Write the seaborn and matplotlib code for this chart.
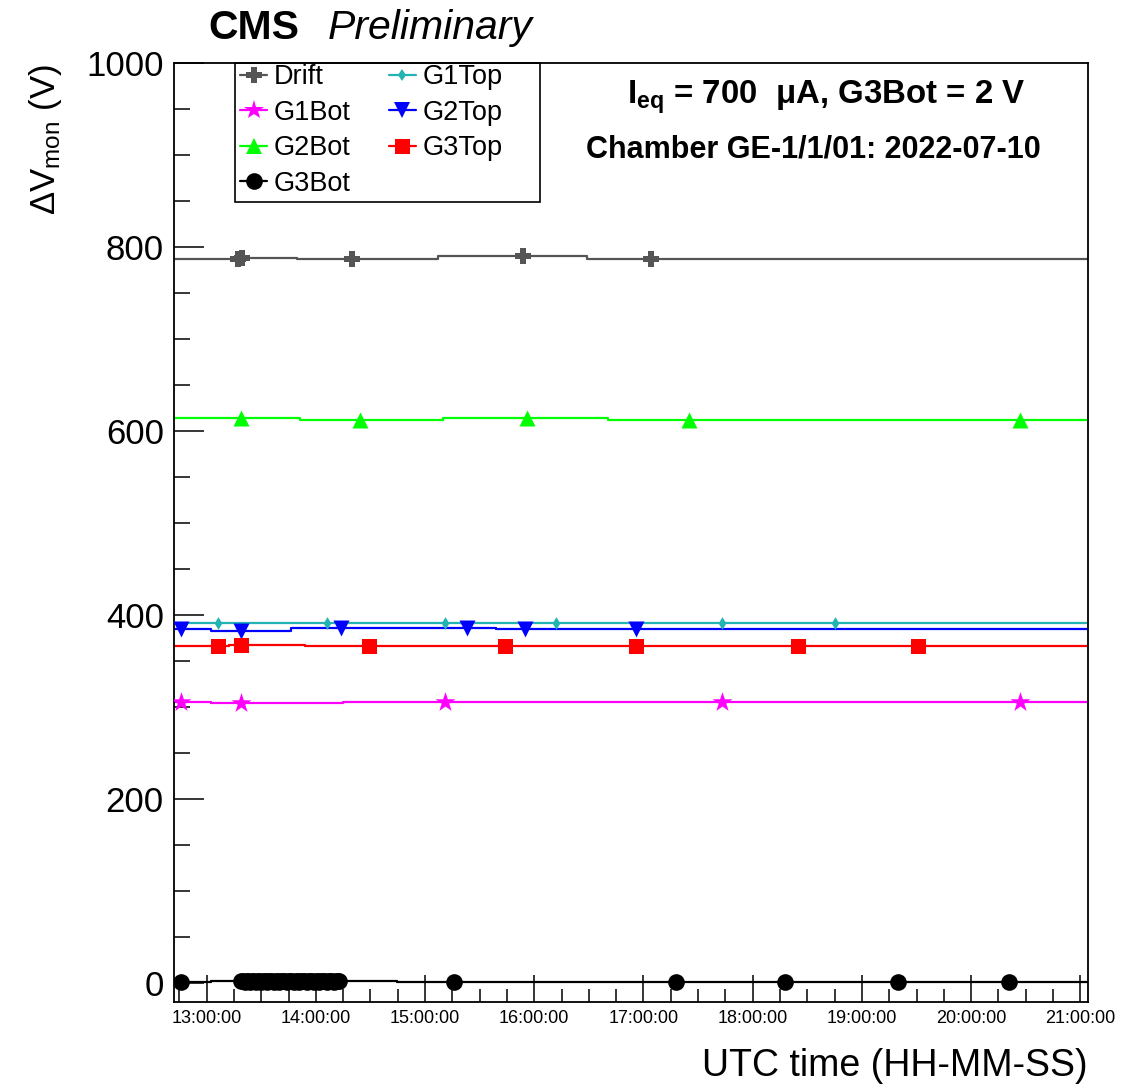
import matplotlib
matplotlib.use("Agg")
import numpy as np
import pandas as pd
import matplotlib.pyplot as plt
import seaborn as sns
from matplotlib.lines import Line2D
from matplotlib.patches import Rectangle
from matplotlib.ticker import FuncFormatter, MultipleLocator

# Monitored voltage differences per HV electrode, UTC time of each reading
drift_time = ["13:17:30", "13:19:30", "14:20:00", "15:54:00", "17:04:00"]
drift_dv = [787.0, 787.5, 787.0, 789.5, 787.0]

g1top_time = ["13:06:00", "14:06:00", "15:11:00", "16:12:00", "17:43:00", "18:45:00"]
g1top_dv = [391.5, 391.5, 391.5, 391.5, 391.5, 391.5]

g1bot_time = ["12:46:00", "13:19:00", "15:11:00", "17:43:00", "20:27:00"]
g1bot_dv = [306.0, 304.5, 306.0, 306.0, 306.0]

g2top_time = ["12:46:00", "13:19:00", "14:14:00", "15:23:00", "15:55:00", "16:56:00"]
g2top_dv = [384.5, 383.0, 386.0, 386.0, 384.5, 384.5]

g2bot_time = ["13:19:00", "14:24:00", "15:56:00", "17:25:00", "20:27:00"]
g2bot_dv = [614.0, 612.0, 614.0, 612.0, 612.0]

g3top_time = ["13:06:00", "13:19:00", "14:29:00", "15:44:00", "16:56:00", "18:25:00", "19:31:00"]
g3top_dv = [366.5, 368.0, 366.0, 366.0, 366.0, 366.0, 366.0]

g3bot_time = ["12:46:00",
              "13:19:00", "13:20:00", "13:21:00", "13:22:00", "13:23:00", "13:24:00",
              "13:25:00", "13:26:00", "13:27:00", "13:28:00", "13:29:00", "13:30:00",
              "13:31:00", "13:32:00", "13:33:00", "13:34:00", "13:35:00", "13:36:00",
              "13:37:00", "13:38:00", "13:39:00", "13:40:00", "13:41:00", "13:42:00",
              "13:43:00", "13:44:00", "13:45:00", "13:46:00", "13:47:00", "13:48:00",
              "13:49:00", "13:50:00", "13:51:00", "13:52:00", "13:53:00", "13:54:00",
              "13:55:00", "13:56:00", "13:57:00", "13:58:00", "13:59:00", "14:00:00",
              "14:01:00", "14:02:00", "14:03:00", "14:04:00", "14:05:00", "14:06:00",
              "14:07:00", "14:08:00", "14:09:00", "14:10:00", "14:11:00", "14:12:00",
              "14:13:00",
              "15:16:00", "17:18:00", "18:18:00", "19:20:00", "20:21:00"]
g3bot_dv = [1.5,
            2.2, 2.0, 1.8, 2.3, 2.1, 1.9,
            2.0, 2.4, 1.7, 2.0, 2.2, 1.9,
            2.1, 2.0, 1.8, 2.3, 2.0, 2.1,
            1.9, 2.2, 2.0, 1.8, 2.1, 2.0,
            2.3, 1.9, 2.0, 2.1, 2.0, 1.8,
            2.2, 2.0, 1.9, 2.1, 2.3, 2.0,
            1.8, 2.1, 2.0, 2.2, 1.9, 2.0,
            2.1, 1.8, 2.0, 2.2, 2.0, 1.9,
            2.1, 2.0, 2.3, 1.9, 2.0, 2.1,
            2.0,
            1.0, 1.0, 1.0, 1.0, 1.0]

series_names = ["Drift", "G1Top", "G1Bot", "G2Top", "G2Bot", "G3Top", "G3Bot"]
series_times = [drift_time, g1top_time, g1bot_time, g2top_time, g2bot_time, g3top_time, g3bot_time]
series_values = [drift_dv, g1top_dv, g1bot_dv, g2top_dv, g2bot_dv, g3top_dv, g3bot_dv]

# Drawing styles (ROOT-like colours and markers)
colors = ["#555555", "#22b4b4", "#ff00ff", "#0000ff", "#00ff00", "#ff0000", "#000000"]
markers = ["P", "d", "*", "v", "^", "s", "o"]
msizes = [12.0, 6.5, 15.0, 11.5, 11.5, 10.8, 12.0]

x_range = (12.697, 21.07)   # hours (UTC)
y_range = (-20, 1000)

sns.set_theme(style="white")
plt.rcParams["font.family"] = ["Liberation Sans", "DejaVu Sans"]
plt.rcParams["mathtext.fontset"] = "custom"
plt.rcParams["mathtext.rm"] = "Liberation Sans"
plt.rcParams["mathtext.it"] = "Liberation Sans:italic"
plt.rcParams["mathtext.bf"] = "Liberation Sans:bold"
for key in ("text.color", "axes.labelcolor", "xtick.color", "ytick.color",
            "axes.edgecolor"):
    plt.rcParams[key] = "black"

W, H = 1133, 1085
fig = plt.figure(figsize=(W / 100, H / 100), dpi=100)
ax = fig.add_axes([173.5 / W, 1 - 1001.7 / H, (1088 - 173.5) / W, (1001.7 - 62.7) / H])


def to_hours(times):
    return np.asarray(pd.to_timedelta(times).total_seconds() / 3600.0)


handles = {}
for name, times, vals, c, m, ms in zip(series_names, series_times, series_values,
                                       colors, markers, msizes):
    hrs = to_hours(times)
    vals = np.asarray(vals, dtype=float)
    # step line held across the whole time window
    line_df = pd.DataFrame({
        "t": np.concatenate([[x_range[0]], hrs, [x_range[1]]]),
        "v": np.concatenate([[vals[0]], vals, [vals[-1]]]),
    })
    sns.lineplot(data=line_df, x="t", y="v", ax=ax, color=c, lw=1.6,
                 drawstyle="steps-mid", estimator=None, sort=False,
                 legend=False, zorder=2)
    pts = pd.DataFrame({"t": hrs, "v": vals})
    sns.scatterplot(data=pts, x="t", y="v", ax=ax, color=c, marker=m,
                    s=ms ** 2, linewidth=0, legend=False, zorder=3)
    handles[name] = Line2D([], [], color=c, lw=1.6, marker=m, markersize=ms,
                           markeredgewidth=0)

ax.set_xlim(*x_range)
ax.set_ylim(*y_range)

ax.xaxis.set_major_locator(MultipleLocator(1.0))
ax.xaxis.set_minor_locator(MultipleLocator(0.25))
ax.yaxis.set_major_locator(MultipleLocator(200))
ax.yaxis.set_minor_locator(MultipleLocator(50))


def hms(x, pos):
    total = int(round(x * 3600))
    return f"{total // 3600:02d}:{(total % 3600) // 60:02d}:{total % 60:02d}"


ax.xaxis.set_major_formatter(FuncFormatter(hms))
ax.tick_params(axis="x", which="major", direction="in", length=19.5, width=1.1,
               labelsize=13, pad=6, bottom=True, top=False, colors="black")
ax.tick_params(axis="x", which="minor", direction="in", length=9.5, width=1.1,
               bottom=True, top=False, colors="black")
ax.tick_params(axis="y", which="major", direction="in", length=21.5, width=1.1,
               labelsize=25, pad=7, left=True, right=False, colors="black")
ax.tick_params(axis="y", which="minor", direction="in", length=11.5, width=1.1,
               left=True, right=False, colors="black")
for sp in ax.spines.values():
    sp.set_color("black")
    sp.set_linewidth(1.3)
ax.set_xlabel("")
ax.set_ylabel("")

# Legend: row-major order in two columns
order = ["Drift", "G1Bot", "G2Bot", "G3Bot", "G1Top", "G2Top", "G3Top"]
ax_w = 1088 - 173.5
ax_h = 1001.7 - 62.7
leg = ax.legend([handles[k] for k in order], order, ncol=2, loc="upper left",
                bbox_to_anchor=((240 - 173.5) / ax_w, 1 - 1.5 / ax_h),
                frameon=False, fontsize=19.5, handlelength=1.0,
                handletextpad=0.25, columnspacing=1.4, labelspacing=0.35,
                borderpad=0.0, borderaxespad=0.0)
for txt in leg.get_texts():
    txt.set_color("black")
ax.add_patch(Rectangle(((235 - 173.5) / ax_w, 1 - (202 - 62.7) / ax_h),
                       (540 - 235) / ax_w, (202 - 62.7) / ax_h,
                       transform=ax.transAxes, fill=False, edgecolor="black",
                       lw=1.2, zorder=5, clip_on=False))

# Titles and annotations
fig.text(208 / W, 1 - 39 / H, "CMS", fontsize=29.5, fontweight="bold",
         ha="left", va="baseline")
fig.text(328 / W, 1 - 39 / H, "Preliminary", fontsize=29.5, fontstyle="italic",
         ha="left", va="baseline")
fig.text(826 / W, 1 - 104 / H, r"I$_{\mathbf{eq}}$ = 700  μA, G3Bot = 2 V",
         fontsize=23.8, fontweight="bold", ha="center", va="baseline")
fig.text(813 / W, 1 - 157 / H, "Chamber GE-1/1/01: 2022-07-10",
         fontsize=22, fontweight="bold", ha="center", va="baseline")

fig.text(1088 / W, 1 - 1066 / H, "UTC time (HH-MM-SS)", fontsize=27,
         ha="right", va="center")
fig.text(45 / W, 1 - 64 / H, r"$\Delta$V$_{\mathrm{mon}}$ (V)", fontsize=25,
         rotation=90, ha="center", va="top")

fig.savefig("out.png", dpi=100, facecolor="white")
